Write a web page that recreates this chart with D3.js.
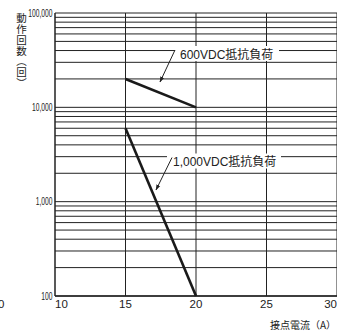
<!DOCTYPE html>
<html>
<head>
<meta charset="utf-8">
<script src="https://cdn.jsdelivr.net/npm/d3@7"></script>
<style>
  html, body { margin: 0; padding: 0; background: #fff; }
  svg { display: block; }
  text { font-family: "Liberation Sans", "Noto Sans CJK JP", sans-serif; fill: #222; }
  .cjk { font-family: "Noto Sans CJK JP", sans-serif; }
  .vert { writing-mode: vertical-rl; }
</style>
</head>
<body>
<svg id="chart" width="337" height="334"></svg>
<script>
// Switching life: operations vs. contact current
const xTicks = [10, 15, 20, 25, 30];
const yTicks = [100, 1000, 10000, 100000];
const yTickLabels = ["100", "1,000", "10,000", "100,000"];

const seriesNames = ["600VDC抵抗負荷", "1,000VDC抵抗負荷"];
const currentA = [[15, 20], [15, 20]];
const operations = [[20000, 10000], [6000, 100]];

const xTitle = "接点電流（A）";
const yTitle = "動作回数（回）";

const svg = d3.select("#chart");
const plotL = 55, plotR = 337, plotT = 13, plotB = 296;

const x = d3.scaleLinear().domain([10, 30]).range([plotL, plotR]);
const y = d3.scaleLog().domain([100, 100000]).range([plotB, plotT]);

// horizontal grid at every 1..9 x decade
const gridVals = [];
for (let d = 100; d < 100000; d *= 10) {
  for (let k = 1; k <= 9; k++) gridVals.push(d * k);
}
gridVals.push(100000);

const grid = svg.append("g").attr("stroke", "#222").attr("stroke-width", 1);
grid.selectAll("line.h").data(gridVals).join("line")
  .attr("class", "h")
  .attr("x1", plotL).attr("x2", plotR)
  .attr("y1", d => y(d)).attr("y2", d => y(d));
grid.selectAll("line.v").data(xTicks.slice(1)).join("line")
  .attr("class", "v")
  .attr("x1", d => x(d)).attr("x2", d => x(d))
  .attr("y1", plotT).attr("y2", plotB);

// axes lines
svg.append("line").attr("x1", plotL).attr("x2", plotL).attr("y1", plotT).attr("y2", plotB)
  .attr("stroke", "#222").attr("stroke-width", 1.5);
svg.append("line").attr("x1", plotL).attr("x2", plotR).attr("y1", plotB).attr("y2", plotB)
  .attr("stroke", "#222").attr("stroke-width", 1.5);

// y tick labels (condensed digits)
svg.append("g").selectAll("text").data(yTicks).join("text")
  .attr("transform", d => `translate(52.5,${y(d) + 3.6}) scale(0.64,1)`)
  .attr("text-anchor", "end")
  .attr("font-size", 10.5)
  .text((d, i) => yTickLabels[i]);

// x tick labels
svg.append("g").selectAll("text").data(xTicks).join("text")
  .attr("x", d => x(d))
  .attr("y", 308)
  .attr("text-anchor", (d, i) => i === 0 ? "start" : (i === xTicks.length - 1 ? "end" : "middle"))
  .attr("font-size", 11.5)
  .text(d => d);
// neighbouring panel's last tick label, cut by the left edge
svg.append("text").attr("x", 4.5).attr("y", 308).attr("text-anchor", "end")
  .attr("font-size", 11.5).text("30");

// axis titles
svg.append("text").attr("class", "cjk").attr("x", 336).attr("y", 329)
  .attr("text-anchor", "end").attr("font-size", 10).text(xTitle);
svg.append("text").attr("class", "cjk vert")
  .attr("x", 21.5).attr("y", 13)
  .attr("font-size", 10.5)
  .attr("letter-spacing", 0.3)
  .text(yTitle);

// series lines
const line = d3.line().x(d => x(d[0])).y(d => y(d[1]));
seriesNames.forEach((name, i) => {
  const pts = currentA[i].map((c, j) => [c, operations[i][j]]);
  svg.append("path").datum(pts)
    .attr("d", line)
    .attr("fill", "none")
    .attr("stroke", "#1a1a1a")
    .attr("stroke-width", 2.6);
});

// annotations with leader arrows
const defs = svg.append("defs");
defs.append("marker").attr("id", "arr").attr("viewBox", "0 0 10 10")
  .attr("refX", 9).attr("refY", 5).attr("markerWidth", 6).attr("markerHeight", 6)
  .attr("orient", "auto")
  .append("path").attr("d", "M0,1.5 L10,5 L0,8.5 Z").attr("fill", "#222");

const notes = [
  { tx: 180, ty: 58.5, box: [175, 46, 104, 15], from: [175, 50], to: [160, 82] },
  { tx: 173, ty: 166, box: [167, 153.5, 114, 15], from: [172, 157.5], to: [156, 190] }
];
notes.forEach((n, i) => {
  svg.append("rect").attr("x", n.box[0]).attr("y", n.box[1])
    .attr("width", n.box[2]).attr("height", n.box[3]).attr("fill", "#fff");
  svg.append("text").attr("x", n.tx).attr("y", n.ty).attr("font-size", 12)
    .text(seriesNames[i]);
  svg.append("line").attr("x1", n.from[0]).attr("y1", n.from[1])
    .attr("x2", n.to[0]).attr("y2", n.to[1])
    .attr("stroke", "#222").attr("stroke-width", 1)
    .attr("marker-end", "url(#arr)");
});
</script>
</body>
</html>
